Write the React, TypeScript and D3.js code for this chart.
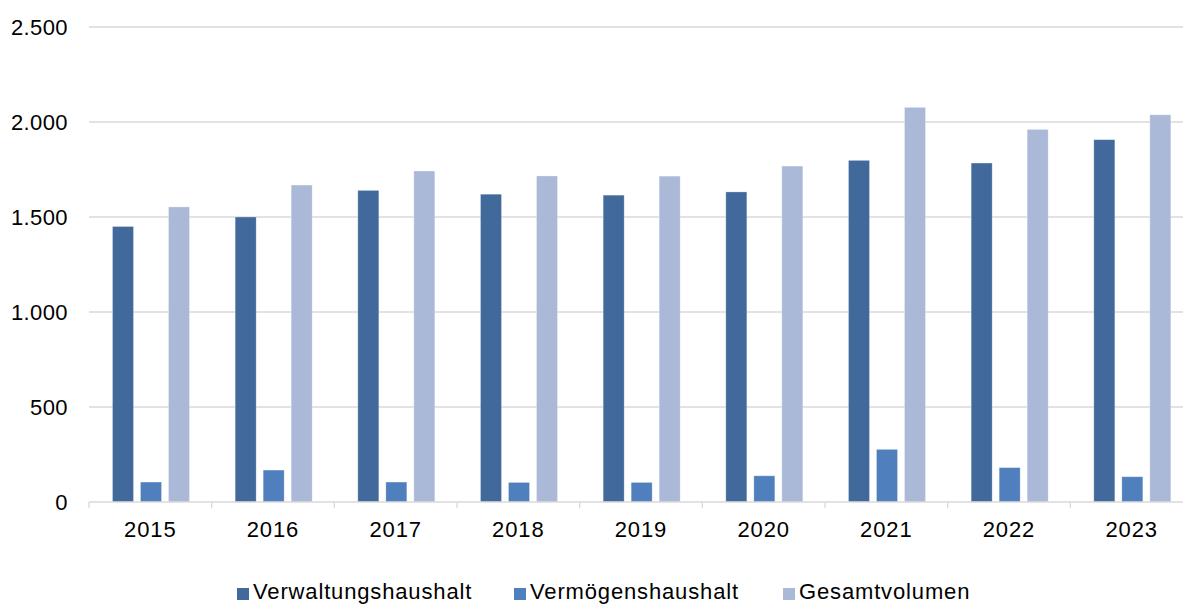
import React from "react";
import * as d3 from "d3";

const years = ["2015", "2016", "2017", "2018", "2019", "2020", "2021", "2022", "2023"];
const verwaltung = [1450, 1500, 1640, 1620, 1615, 1632, 1798, 1784, 1907];
const vermoegen = [105, 168, 105, 103, 103, 138, 277, 181, 133];
const gesamt = [1553, 1668, 1742, 1716, 1715, 1768, 2077, 1961, 2038];
const seriesNames = ["Verwaltungshaushalt", "Vermögenshaushalt", "Gesamtvolumen"];
const seriesColors = ["#41699b", "#4f80bd", "#aab9d7"];
const yTicks = [0, 500, 1000, 1500, 2000, 2500];

const W = 1183;
const H = 605;
const FONT = "'Liberation Sans', Arial, sans-serif";

export default function App() {
  const x = d3.scaleBand<string>().domain(years).range([89, 1193]).padding(0);
  const inner = d3
    .scaleBand<number>()
    .domain([0, 1, 2])
    .range([23.5, 100.5])
    .paddingInner(0.25)
    .paddingOuter(0);
  const y = d3.scaleLinear().domain([0, 2500]).range([502, 27]);
  const series = [verwaltung, vermoegen, gesamt];
  const fmt = (v: number) => d3.format(",")(v).replace(/,/g, ".");

  const legendSquares = [237, 514, 783];

  return (
    <svg
      width={W}
      height={H}
      style={{ position: "absolute", left: 0, top: 0, background: "#fff" }}
      fontFamily={FONT}
    >
      {yTicks.map((t) => (
        <g key={t}>
          {t > 0 && (
            <line x1={89} x2={W} y1={y(t)} y2={y(t)} stroke="#d9d9d9" strokeWidth={1.3} />
          )}
          <text
            x={68}
            y={y(t) + 7.5}
            textAnchor="end"
            fontSize={22}
            letterSpacing={0.4}
            fill="#000"
          >
            {fmt(t)}
          </text>
        </g>
      ))}
      {series.map((vals, si) =>
        years.map((yr, i) => (
          <rect
            key={`${si}-${yr}`}
            x={(x(yr) as number) + (inner(si) as number)}
            y={y(vals[i])}
            width={inner.bandwidth()}
            height={y(0) - y(vals[i])}
            fill={seriesColors[si]}
            stroke="#ffffff"
            strokeOpacity={0.35}
            strokeWidth={0.8}
          />
        ))
      )}
      <line x1={89} x2={W} y1={y(0)} y2={y(0)} stroke="#d9d9d9" strokeWidth={1.3} />
      {years.map((yr) => (
        <line
          key={`tk-${yr}`}
          x1={x(yr) as number}
          x2={x(yr) as number}
          y1={y(0)}
          y2={y(0) + 6}
          stroke="#d9d9d9"
          strokeWidth={1.3}
        />
      ))}
      {years.map((yr) => (
        <text
          key={`lb-${yr}`}
          x={(x(yr) as number) + x.bandwidth() / 2}
          y={537}
          textAnchor="middle"
          fontSize={22}
          letterSpacing={0.9}
          fill="#000"
        >
          {yr}
        </text>
      ))}
      {seriesNames.map((name, i) => (
        <g key={name}>
          <rect x={legendSquares[i]} y={588} width={12} height={12} fill={seriesColors[i]} />
          <text x={legendSquares[i] + 16} y={599} fontSize={22} letterSpacing={0.85} fill="#000">
            {name}
          </text>
        </g>
      ))}
    </svg>
  );
}
